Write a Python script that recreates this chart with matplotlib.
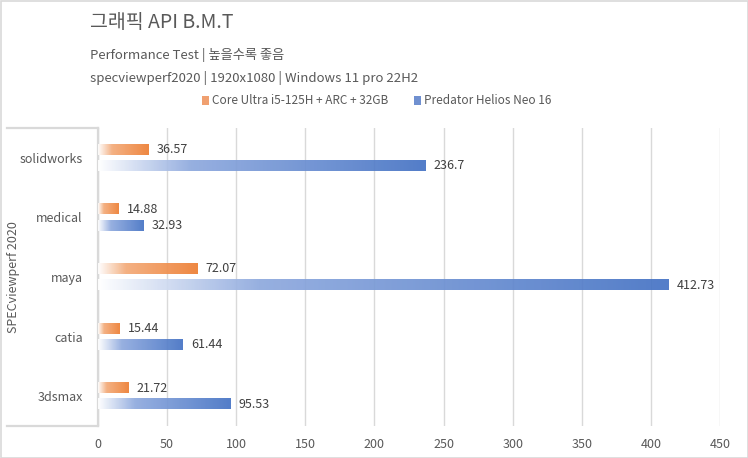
import matplotlib
matplotlib.use("Agg")
import matplotlib.pyplot as plt
import numpy as np
from matplotlib.colors import LinearSegmentedColormap
from matplotlib.patches import Patch, Rectangle
from matplotlib.lines import Line2D

plt.rcParams['font.family'] = ['Noto Sans CJK KR', 'DejaVu Sans']

categories = ['solidworks', 'medical', 'maya', 'catia', '3dsmax']
core_ultra = [36.57, 14.88, 72.07, 15.44, 21.72]
predator = [236.7, 32.93, 412.73, 61.44, 95.53]
series_names = ['Core Ultra i5-125H + ARC + 32GB', 'Predator Helios Neo 16']
xticks = [0, 50, 100, 150, 200, 250, 300, 350, 400, 450]

orange = '#ED7D31'
blue = '#4472C4'
grid_c = '#D9D9D9'
txt_c = '#595959'

W, H = 748, 458
fig = plt.figure(figsize=(W / 100, H / 100), dpi=100)
# plot area in pixels: x 98..720, y 128..426
ax = fig.add_axes([98 / W, 1 - 426 / H, (720 - 98) / W, (426 - 128) / H])

grad = np.linspace(0, 1, 256).reshape(1, -1)
cm_o = LinearSegmentedColormap.from_list('o', [(0, 'white'), (0.28, '#F3AA78'), (1, orange)])
cm_b = LinearSegmentedColormap.from_list('b', [(0, 'white'), (0.28, '#8EA9DE'), (1, blue)])

bh = 0.17
off = 0.135
for i, cat in enumerate(categories):
    for val, cm, d in [(core_ultra[i], cm_o, -off), (predator[i], cm_b, off)]:
        yc = i + d
        ax.imshow(grad, extent=[0, val, yc + bh / 2, yc - bh / 2], cmap=cm,
                  aspect='auto', zorder=3, interpolation='bilinear', alpha=0.92)
        ax.text(val + 6, yc, f'{val:g}', va='center', ha='left',
                fontsize=9, color='#404040', zorder=4)

ax.set_xlim(0, 450)
ax.set_ylim(4.5, -0.5)
ax.set_xticks(xticks)
ax.set_xticklabels([str(t) for t in xticks], fontsize=9, color=txt_c)
ax.set_yticks(range(len(categories)))
ax.set_yticklabels(categories, fontsize=9, color=txt_c)
ax.tick_params(axis='both', length=0)
ax.tick_params(axis='x', pad=9)
ax.tick_params(axis='y', pad=11)
ax.grid(axis='x', color=grid_c, linewidth=1, zorder=0)
ax.set_axisbelow(True)
for s in ['top', 'right', 'bottom']:
    ax.spines[s].set_visible(False)
ax.spines['left'].set_color(grid_c)
ax.spines['left'].set_linewidth(1.6)

fig.text(14 / W, 1 - 277 / H, 'SPECviewperf 2020', fontsize=9, color=txt_c,
         rotation=90, ha='center', va='center')

# category box lines
for yp in (128, 426):
    fig.add_artist(Line2D([7 / W, 98 / W], [1 - yp / H, 1 - yp / H],
                          color=grid_c, linewidth=1.6, transform=fig.transFigure))

# figure border
fig.add_artist(Rectangle((0.5 / W, 0.5 / H), 1 - 1 / W, 1 - 1 / H, fill=False,
                         edgecolor=grid_c, linewidth=1.2, transform=fig.transFigure))

fig.text(90 / W, 1 - 23 / H, '그래픽 API B.M.T', fontsize=14, color=txt_c, va='center')
fig.text(90 / W, 1 - 55 / H, 'Performance Test | 높을수록 좋음', fontsize=9.5,
         color=txt_c, va='center')
fig.text(90 / W, 1 - 78 / H, 'specviewperf2020 | 1920x1080 | Windows 11 pro 22H2',
         fontsize=9.5, color=txt_c, va='center')

handles = [Patch(facecolor='#F0A070', edgecolor='none'),
           Patch(facecolor='#7090D0', edgecolor='none')]
fig.legend(handles, series_names, loc='center', bbox_to_anchor=(377 / W, 1 - 101 / H),
           ncol=2, frameon=False, fontsize=8.5, labelcolor=txt_c,
           handlelength=0.55, handleheight=0.75, handletextpad=0.3, columnspacing=2.2)

fig.savefig('out.png', dpi=100)
